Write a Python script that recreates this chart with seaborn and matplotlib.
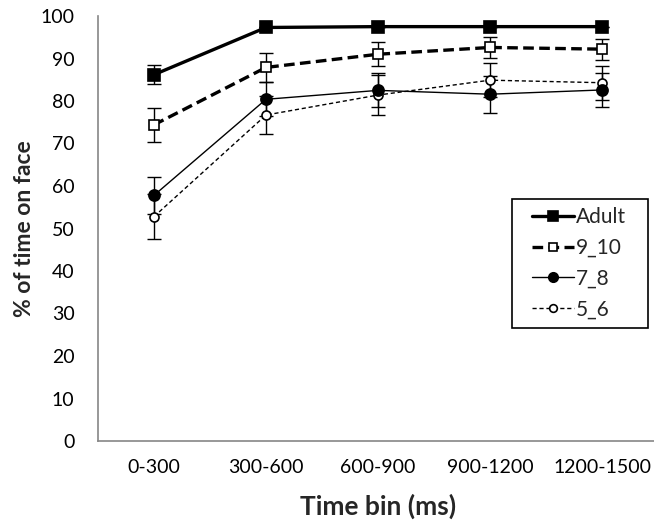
import numpy as np
import pandas as pd
import matplotlib; matplotlib.use("Agg")
import matplotlib.pyplot as plt
import seaborn as sns
from matplotlib.patches import Rectangle
from matplotlib.ticker import FixedLocator, NullFormatter

sns.set_theme(style="white")
plt.rcParams["font.family"] = ["Lato", "DejaVu Sans"]

# ── data ──────────────────────────────────────────────────────────
time_bins = ["0-300", "300-600", "600-900", "900-1200", "1200-1500"]
groups    = ["Adult", "9_10", "7_8", "5_6"]

adult_mean = [86.2, 97.3, 97.5, 97.5, 97.5]
adult_err  = [2.3, 0.0, 0.0, 0.0, 0.0]
g910_mean  = [74.4, 87.9, 91.0, 92.6, 92.2]
g910_err   = [4.0, 3.5, 2.8, 2.5, 2.5]
g78_mean   = [57.8, 80.4, 82.5, 81.6, 82.6]
g78_err    = [4.3, 4.0, 4.0, 4.4, 4.1]
g56_mean   = [52.8, 76.7, 81.4, 84.9, 84.3]
g56_err    = [5.3, 4.4, 4.8, 4.0, 4.0]

means = {"Adult": adult_mean, "9_10": g910_mean, "7_8": g78_mean, "5_6": g56_mean}
errs  = {"Adult": adult_err,  "9_10": g910_err,  "7_8": g78_err,  "5_6": g56_err}

df = pd.DataFrame([
    {"group": g, "x": i, "bin": b, "mean": means[g][i], "err": errs[g][i]}
    for g in groups for i, b in enumerate(time_bins)
])

STYLE = {
    "Adult": dict(lw=2.4, ls="-",  marker="s", ms=8.5, mfc="black"),
    "9_10":  dict(lw=2.4, ls=(0, (3.2, 1.6)), marker="s", ms=7, mfc="white"),
    "7_8":   dict(lw=1.0, ls="-",  marker="o", ms=8, mfc="black"),
    "5_6":   dict(lw=1.0, ls=(0, (3, 2)), marker="o", ms=6.5, mfc="white"),
}

fig = plt.figure(figsize=(6.54, 5.26), dpi=100)
ax = fig.add_axes([98/654, 85/526, 560/654, 425/526])

# error bars first, then the lines on top
for g in groups[::-1]:
    sub = df[df["group"] == g]
    ax.errorbar(sub["x"], sub["mean"], yerr=sub["err"], fmt="none",
                ecolor="black", elinewidth=1.0, capsize=5, capthick=1.0, zorder=2)

for z, g in enumerate(groups[::-1]):
    sub = df[df["group"] == g]
    st = STYLE[g]
    sns.lineplot(data=sub, x="x", y="mean", ax=ax, color="black",
                 linewidth=st["lw"], linestyle=st["ls"], marker=st["marker"],
                 markersize=st["ms"], markerfacecolor=st["mfc"],
                 markeredgecolor="black", markeredgewidth=1.2,
                 label=g, zorder=3 + z)

ax.set_xlim(-0.5, 4.5)
ax.set_ylim(0, 100)
ax.set_yticks(np.arange(0, 101, 10))
ax.set_xticks(range(len(time_bins)))
ax.set_xticklabels(time_bins)
ax.xaxis.set_minor_locator(FixedLocator(np.arange(-0.5, 4.6, 1)))
ax.xaxis.set_minor_formatter(NullFormatter())
ax.tick_params(axis="x", which="major", length=0, pad=13, labelsize=14)
ax.tick_params(axis="x", which="minor", length=6, width=1, color="#868686", direction="out")
ax.tick_params(axis="y", length=6, width=1, color="#868686", direction="out", pad=11, labelsize=14)
ax.tick_params(axis="both", labelcolor="black")

for s in ["top", "right"]:
    ax.spines[s].set_visible(False)
for s in ["left", "bottom"]:
    ax.spines[s].set_color("#868686")
    ax.spines[s].set_linewidth(1.2)

ax.set_xlabel("Time bin (ms)", fontsize=19, fontweight="bold", labelpad=13)
ax.set_ylabel("% of time on face", fontsize=16.5, fontweight="bold", labelpad=4)

# legend: frameless entries inside a hand-placed box
handles, labels = ax.get_legend_handles_labels()
order = [labels.index(g) for g in groups]
leg = ax.legend([handles[i] for i in order], [labels[i] for i in order],
                loc="upper left", bbox_to_anchor=(532/654, (526-207)/526),
                bbox_transform=fig.transFigure, frameon=False,
                fontsize=15, handlelength=2.0, handletextpad=0.1,
                labelspacing=0.52, borderpad=0, borderaxespad=0,
                markerscale=0.85)
leg.set_zorder(10)
box = Rectangle((512/654, (526-328)/526), 136/654, 129/526,
                transform=fig.transFigure, facecolor="white",
                edgecolor="black", linewidth=1.2, zorder=9, clip_on=False)
ax.add_artist(box)

fig.savefig("out.png", dpi=100)
